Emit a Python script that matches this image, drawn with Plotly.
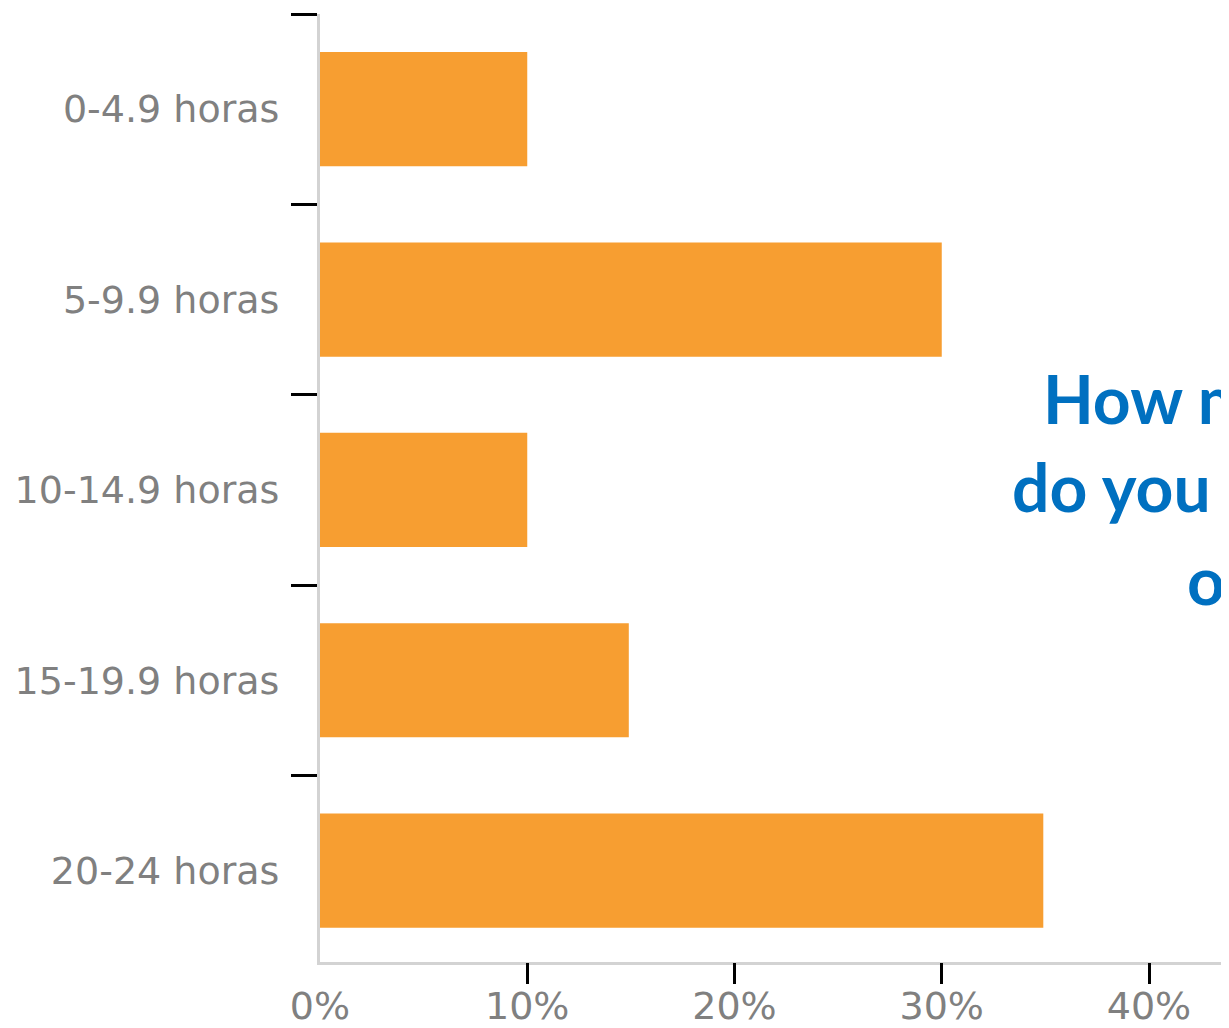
import plotly.graph_objects as go

categories = ["0-4.9 horas", "5-9.9 horas", "10-14.9 horas", "15-19.9 horas", "20-24 horas"]
shares = [0.10, 0.30, 0.10, 0.149, 0.349]
x_ticks = [0, 0.1, 0.2, 0.3, 0.4]
x_ticktext = ["0%", "10%", "20%", "30%", "40%"]
title_lines = ["How many hours per day", "do you spend online", "on average?"]

# page body has an 8px margin; the figure is sized to fill the rest of the window
W, H = 1221, 1020
ML, MR, MT, MB = 312, 0, 6, 66
x_max = (W - ML) / 2072.5

fig = go.Figure()
fig.add_trace(go.Bar(
    x=shares, y=categories, orientation="h",
    marker=dict(color="#F79E31", line=dict(width=0)),
    width=0.6, hoverinfo="skip",
))
# invisible helper trace so the tick-mark axis (x2) is drawn
fig.add_trace(go.Scatter(
    x=[x_ticks[0]], y=[categories[0]], xaxis="x2", yaxis="y",
    mode="markers", marker=dict(opacity=0), hoverinfo="skip",
))

fig.update_layout(
    width=W, height=H,
    margin=dict(l=ML, r=MR, t=MT, b=MB, pad=0, autoexpand=False),
    paper_bgcolor="white", plot_bgcolor="white",
    showlegend=False,
    font=dict(family="DejaVu Sans", size=38, color="#808080"),
    xaxis=dict(
        range=[0, x_max], tickvals=x_ticks, ticktext=x_ticktext,
        ticks="", showgrid=False, zeroline=False, automargin=False,
        showline=True, linecolor="#d3d3d3", linewidth=3,
        tickfont=dict(family="DejaVu Sans", size=38, color="#808080"),
        ticklabelstandoff=8,
    ),
    xaxis2=dict(
        overlaying="x", anchor="y", side="bottom", automargin=False,
        range=[0, x_max], tickvals=x_ticks[1:],
        showticklabels=False, ticks="outside", ticklen=21, tickwidth=3,
        tickcolor="black", showgrid=False, zeroline=False, showline=False,
    ),
    yaxis=dict(
        type="category", categoryorder="array", categoryarray=categories,
        range=[4.48, -0.5], automargin=False,
        ticks="outside", tickson="boundaries", ticklen=26, tickwidth=3,
        tickcolor="black", showgrid=False, zeroline=False,
        showline=True, linecolor="#d3d3d3", linewidth=3,
        tickfont=dict(family="DejaVu Sans", size=38, color="#808080"),
        ticklabelstandoff=30,
    ),
)

title_pos = [(1033, 349), (1002, 437), (1177, 530)]
for text, (px, py) in zip(title_lines, title_pos):
    fig.add_annotation(
        text=text, xref="paper", yref="paper",
        x=(px - ML) / (W - ML - MR), y=1 - (py - MT) / (H - MT - MB),
        xanchor="left", yanchor="top", showarrow=False, align="left",
        font=dict(family="Lato", size=66, color="#0070C0", weight="bold"),
    )

fig.write_html("out.html")
